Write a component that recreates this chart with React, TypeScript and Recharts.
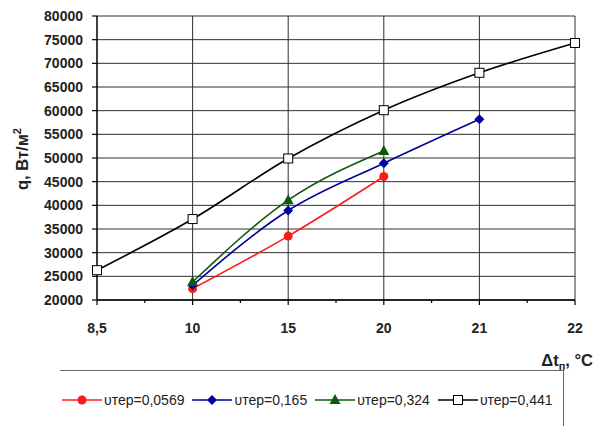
import { CartesianGrid, Legend, Line, LineChart, XAxis, YAxis } from 'recharts'

// Δt categories are evenly spaced on the axis (Excel category axis)
const categories = ['8,5', '10', '15', '20', '21', '22']
const q0569 = [null, 22400, 33500, 46100, null, null]
const q165 = [null, 23100, 38900, 48900, 58200, null]
const q324 = [null, 23800, 41100, 51500, null, null]
const q441 = [26300, 37100, 49900, 60100, 68000, 74300]
const yTicks = [20000, 25000, 30000, 35000, 40000, 45000, 50000, 55000, 60000, 65000, 70000, 75000, 80000]
const xTicks = [0, 0.5, 1, 1.5, 2, 2.5, 3, 3.5, 4, 4.5, 5]

const RED = '#ff1a1a'
const BLUE = '#00009c'
const GREEN = '#0b5a0b'
const INK = '#000'
const GRIDC = '#2e2e2e'
const FONT = '"Liberation Sans", Arial, sans-serif'

const data = categories.map((c, i) => ({
  i,
  c,
  a: q0569[i],
  b: q165[i],
  g: q324[i],
  k: q441[i],
}))

const SERIES = [
  { key: 'a', name: 'υтер=0,0569', color: RED, mark: 'circle' },
  { key: 'b', name: 'υтер=0,165', color: BLUE, mark: 'diamond' },
  { key: 'g', name: 'υтер=0,324', color: GREEN, mark: 'triangle' },
  { key: 'k', name: 'υтер=0,441', color: INK, mark: 'square' },
]

function Marker({ cx, cy, mark, color }: { cx: number; cy: number; mark: string; color: string }) {
  if (cx == null || cy == null) return null
  if (mark === 'circle') return <circle cx={cx} cy={cy} r={4.5} fill={color} />
  if (mark === 'diamond')
    return <path d={`M${cx},${cy - 5}L${cx + 5},${cy}L${cx},${cy + 5}L${cx - 5},${cy}Z`} fill={color} />
  if (mark === 'triangle')
    return <path d={`M${cx},${cy - 6}L${cx + 5.5},${cy + 4}L${cx - 5.5},${cy + 4}Z`} fill={color} />
  return <rect x={cx - 4.5} y={cy - 4.5} width={9} height={9} fill="#fff" stroke={color} strokeWidth={1} />
}

function dotFor(mark: string, color: string) {
  return (p: any) => {
    if (p.value == null) return <g key={p.key} />
    return <Marker key={p.key} cx={p.cx} cy={p.cy} mark={mark} color={color} />
  }
}

// major ticks carry a label, half-steps are only short marks
function XTick(props: any) {
  const { x, y, payload } = props
  const v = payload.value as number
  const major = Number.isInteger(v)
  return (
    <g>
      <line x1={x} x2={x} y1={y} y2={y + (major ? 5 : 3)} stroke={INK} strokeWidth={1.2} />
      {major && (
        <text x={x} y={y + 33} textAnchor="middle" fontSize={14} fontWeight={700} fill="#222" fontFamily={FONT}>
          {categories[v]}
        </text>
      )}
    </g>
  )
}

function XTitle(props: any) {
  const vb = props.viewBox
  if (!vb) return null
  return (
    <text x={593} y={366} textAnchor="end" fontSize={16.5} fontWeight={700} fill="#222" fontFamily={FONT}>
      Δt
      <tspan fontSize={11} dy={4}>п</tspan>
      <tspan dy={-4}>, °C</tspan>
    </text>
  )
}

function YTitle(props: any) {
  const vb = props.viewBox
  if (!vb) return null
  const cx = 28
  const cy = 159
  return (
    <text
      x={cx}
      y={cy}
      transform={`rotate(-90 ${cx} ${cy})`}
      textAnchor="middle"
      fontSize={16.5}
      fontWeight={700}
      fill="#222"
      fontFamily={FONT}
    >
      q, Вт/м
      <tspan fontSize={11} dy={-7}>2</tspan>
    </text>
  )
}

function LegendBox() {
  return (
    <div
      style={{
        display: 'flex',
        alignItems: 'center',
        height: 58,
        borderTop: '1.5px solid #666',
        borderRight: '1.5px solid #666',
        boxSizing: 'border-box',
        fontFamily: FONT,
        fontSize: 14,
        color: '#222',
        paddingLeft: 2,
      }}
    >
      {SERIES.map((s) => (
        <div key={s.key} style={{ display: 'flex', alignItems: 'center', marginRight: 8 }}>
          <svg width={40} height={14}>
            <line x1={0} x2={40} y1={7} y2={7} stroke={s.color} strokeWidth={1.5} />
            <Marker cx={20} cy={7} mark={s.mark} color={s.color} />
          </svg>
          <span style={{ marginLeft: 2 }}>{s.name}</span>
        </div>
      ))}
    </div>
  )
}

export default function App() {
  return (
    <div style={{ position: 'absolute', left: 0, top: 0, width: 594, height: 426, background: '#fff' }}>
      <LineChart width={594} height={426} data={data} margin={{ top: 16, right: 19, bottom: 0, left: 37 }}>
        <CartesianGrid stroke={GRIDC} strokeWidth={1} verticalValues={[1, 2, 3, 4, 5]} />
        <XAxis
          dataKey="i"
          type="number"
          domain={[0, 5]}
          ticks={xTicks}
          interval={0}
          tickSize={0}
          tickMargin={0}
          tickLine={false}
          tick={<XTick />}
          axisLine={{ stroke: INK, strokeWidth: 1.5 }}
          height={68}
          label={<XTitle />}
        />
        <YAxis
          type="number"
          domain={[20000, 80000]}
          ticks={yTicks}
          interval={0}
          width={60}
          tickSize={5}
          tickMargin={9}
          tickLine={{ stroke: INK, strokeWidth: 1.2 }}
          axisLine={{ stroke: INK, strokeWidth: 1.5 }}
          tick={{ fontSize: 14, fontWeight: 700, fill: '#222', fontFamily: FONT }}
          label={<YTitle />}
        />
        {SERIES.map((s) => (
          <Line
            key={s.key}
            dataKey={s.key}
            name={s.name}
            type="monotone"
            stroke={s.color}
            strokeWidth={1.6}
            dot={dotFor(s.mark, s.color)}
            activeDot={false}
            isAnimationActive={false}
          />
        ))}
        <Legend
          content={<LegendBox />}
          wrapperStyle={{ position: 'absolute', left: 60, top: 370, width: 504, height: 58 }}
        />
      </LineChart>
    </div>
  )
}
